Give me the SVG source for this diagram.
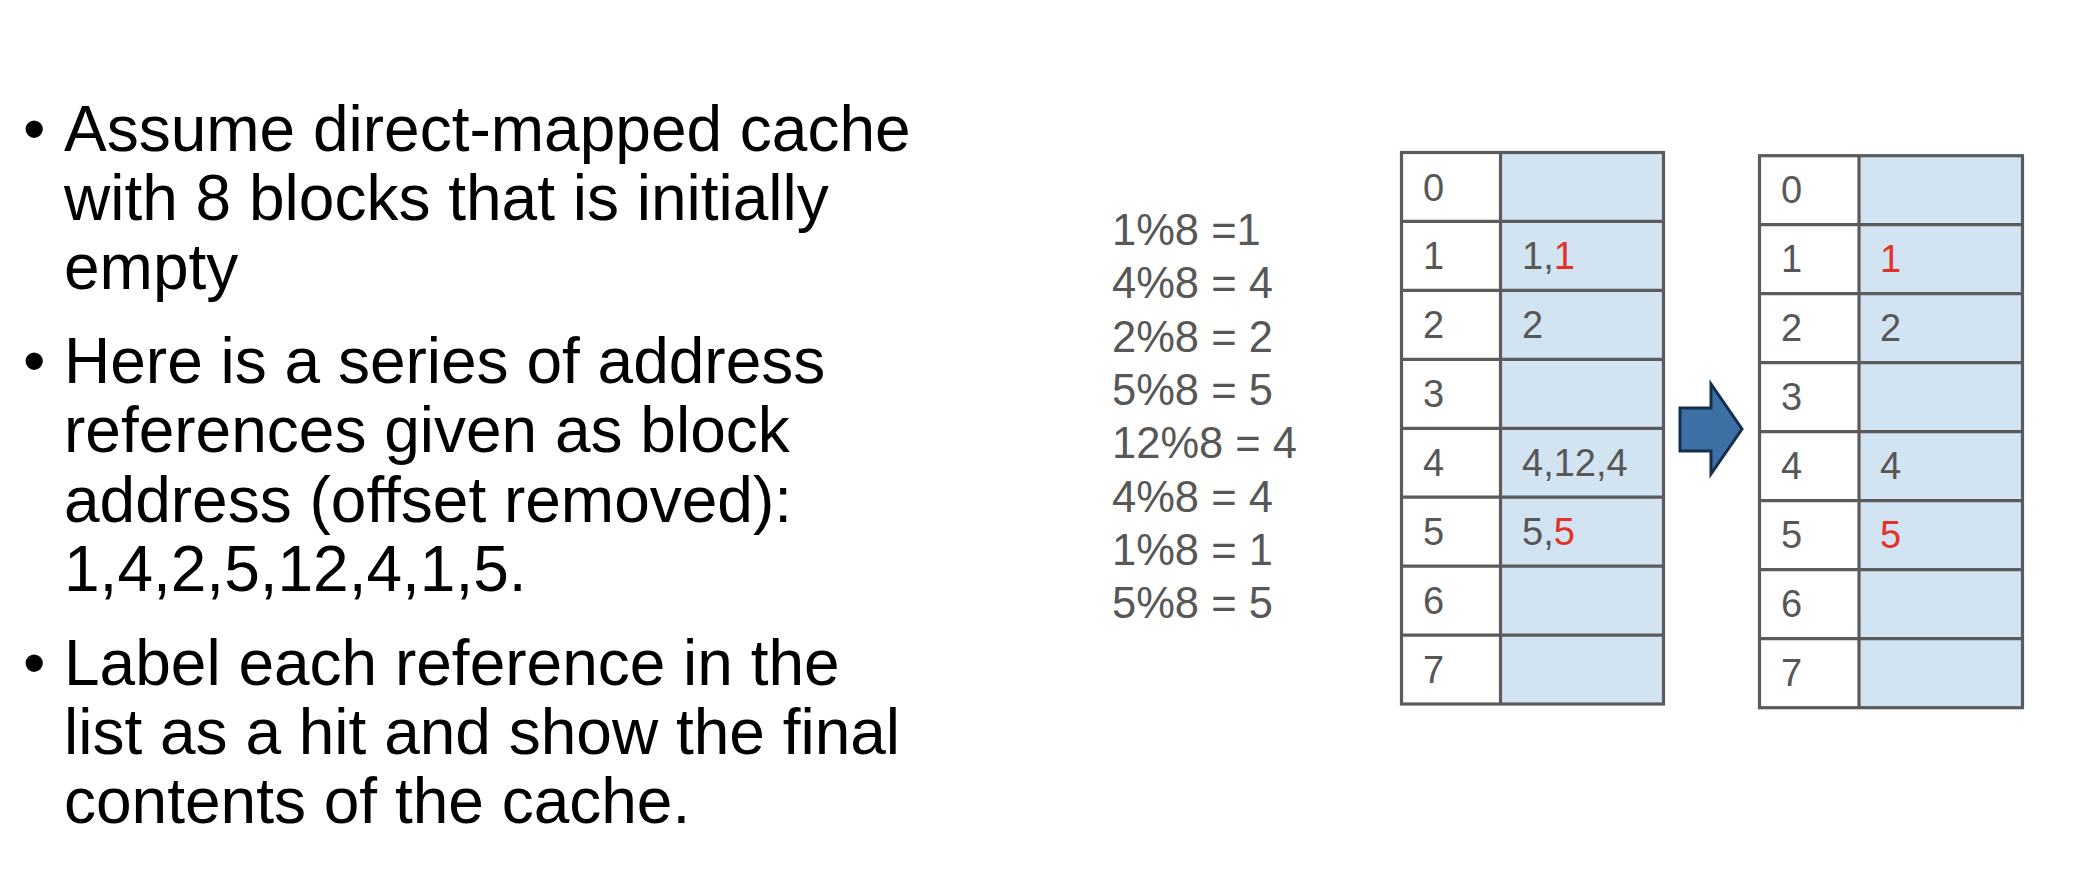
<svg xmlns="http://www.w3.org/2000/svg" width="2092" height="870" viewBox="0 0 2092 870">
<style>
.b{font-family:"Liberation Sans",Arial,sans-serif;font-size:64px;fill:#000}
.m{font-family:"Liberation Sans",Arial,sans-serif;font-size:43.5px;fill:#575757}
.t{font-family:"Liberation Sans",Arial,sans-serif;font-size:38px;fill:#575757}
.r{fill:#E53228}
.idx{fill:#FFFFFF}
.dat{fill:#D2E3F2}
.grid{stroke:#5B5B5B;stroke-width:3.2;fill:none}
.arrow{fill:#3D6FA5;stroke:#142E4E;stroke-width:3;stroke-linejoin:miter}
</style>
<rect x="0" y="0" width="2092" height="870" fill="#FFFFFF"/>
<g id="bullets">
<text class="b" x="23" y="150.7">•</text>
<text class="b" x="64" y="150.7">Assume direct-mapped cache</text>
<text class="b" x="64" y="220">with 8 blocks that is initially</text>
<text class="b" x="64" y="289">empty</text>
<text class="b" x="23" y="383">•</text>
<text class="b" x="64" y="383">Here is a series of address</text>
<text class="b" x="64" y="452.3">references given as block</text>
<text class="b" x="64" y="521.6">address (offset removed):</text>
<text class="b" x="64" y="591">1,4,2,5,12,4,1,5.</text>
<text class="b" x="23" y="685">•</text>
<text class="b" x="64" y="685">Label each reference in the</text>
<text class="b" x="64" y="754">list as a hit and show the final</text>
<text class="b" x="64" y="823">contents of the cache.</text>
</g>
<g id="mod-list">
<text class="m" x="1112" y="245">1%8 =1</text>
<text class="m" x="1112" y="298.3">4%8 = 4</text>
<text class="m" x="1112" y="351.7">2%8 = 2</text>
<text class="m" x="1112" y="405">5%8 = 5</text>
<text class="m" x="1112" y="458.3">12%8 = 4</text>
<text class="m" x="1112" y="511.7">4%8 = 4</text>
<text class="m" x="1112" y="565">1%8 = 1</text>
<text class="m" x="1112" y="618.3">5%8 = 5</text>
</g>
<g id="cache-before">
<rect class="idx" x="1401.5" y="152.5" width="99" height="551.5"/>
<rect class="dat" x="1500.5" y="152.5" width="163" height="551.5"/>
<rect class="grid" x="1401.5" y="152.5" width="262" height="551.5"/>
<path class="grid" d="M1500.5 152.5V704 M1401.5 221.4H1663.5 M1401.5 290.4H1663.5 M1401.5 359.3H1663.5 M1401.5 428.3H1663.5 M1401.5 497.2H1663.5 M1401.5 566.1H1663.5 M1401.5 635.1H1663.5"/>
<text class="t" x="1423" y="200.5">0</text>
<text class="t" x="1423" y="269.4">1</text>
<text class="t" x="1423" y="338.4">2</text>
<text class="t" x="1423" y="407.3">3</text>
<text class="t" x="1423" y="476.3">4</text>
<text class="t" x="1423" y="545.2">5</text>
<text class="t" x="1423" y="614.1">6</text>
<text class="t" x="1423" y="683.1">7</text>
<text class="t" x="1522" y="269.4">1,<tspan class="r">1</tspan></text>
<text class="t" x="1522" y="338.4">2</text>
<text class="t" x="1522" y="476.3">4,12,4</text>
<text class="t" x="1522" y="545.2">5,<tspan class="r">5</tspan></text>
</g>
<g id="connectors">
<path class="arrow" d="M1680 408H1711V384L1742 429L1711 474V451H1680Z"/>
</g>
<g id="cache-after">
<rect class="idx" x="1759.5" y="155.7" width="99.5" height="552"/>
<rect class="dat" x="1859" y="155.7" width="163.5" height="552"/>
<rect class="grid" x="1759.5" y="155.7" width="263" height="552"/>
<path class="grid" d="M1859 155.7V707.7 M1759.5 224.7H2022.5 M1759.5 293.7H2022.5 M1759.5 362.7H2022.5 M1759.5 431.7H2022.5 M1759.5 500.7H2022.5 M1759.5 569.7H2022.5 M1759.5 638.7H2022.5"/>
<text class="t" x="1781" y="203.2">0</text>
<text class="t" x="1781" y="272.2">1</text>
<text class="t" x="1781" y="341.2">2</text>
<text class="t" x="1781" y="410.2">3</text>
<text class="t" x="1781" y="479.2">4</text>
<text class="t" x="1781" y="548.2">5</text>
<text class="t" x="1781" y="617.2">6</text>
<text class="t" x="1781" y="686.2">7</text>
<text class="t r" x="1880" y="272.2">1</text>
<text class="t" x="1880" y="341.2">2</text>
<text class="t" x="1880" y="479.2">4</text>
<text class="t r" x="1880" y="548.2">5</text>
</g>
</svg>
